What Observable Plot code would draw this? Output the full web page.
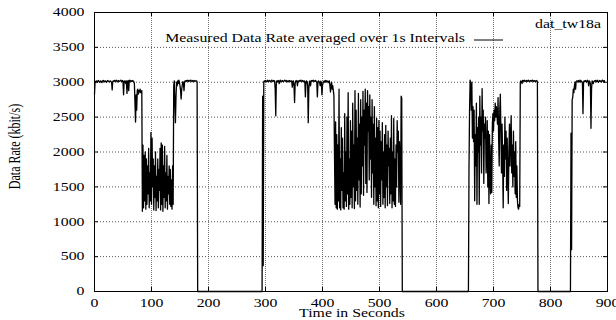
<!DOCTYPE html>
<html><head><meta charset="utf-8">
<script src="https://cdn.jsdelivr.net/npm/d3@7"></script>
<script src="https://cdn.jsdelivr.net/npm/@observablehq/plot@0.6"></script>
<style>html,body{margin:0;padding:0;background:#fff;}</style>
</head><body><div id="chart"></div>
<script>
const xTicks = [0,100,200,300,400,500,600,700,800,900];
const yTicks = [0,500,1000,1500,2000,2500,3000,3500,4000];
const xLabel = "Time in Seconds";
const yLabel = "Data Rate (kbit/s)";
const keyLabel = "Measured Data Rate averaged over 1s Intervals";
const seriesName = "dat_tw18a";

// data rate per 1 s interval (kbit/s); each burst starts at the given second, rate is 0 between bursts
const burst1Start = 0;
const burst1 = [
  2830,
  3010,3000,3020,3015,3005,3020,3025,3010,3000,3015,3020,3010,2995,3020,3015,3025,3010,3005,3020,3015,3000,3010,3025,3020,3010,3005,3015,3020,3010,3000,
  2890,
  3010,3020,3015,3025,3010,3020,3030,3015,3005,3020,3025,3010,3015,3020,3030,3020,3010,3025,3015,
  2820,
  3010,3020,3015,2980,3020,
  2840,
  3010,3025,2880,3020,3030,3015,3020,3010,3025,3015,3020,3010,
  2980,2700,2430,2820,2600,2880,2900,2830,2880,2860,2900,2850,2870,2880,
  1150,2100,1200,1950,1300,2000,1180,1900,1250,1800,
  1400,2050,1200,1700,1300,2280,1250,2200,1500,1900,
  1170,1800,1350,2000,1160,1650,1300,1900,1200,1750,
  1450,2050,1170,2130,1250,2100,1150,1800,1350,2080,
  1200,1700,1300,1950,1180,1650,1400,1800,1250,1750,
  1220,1600,1180,1800,1250,
  2950,3020,2700,2420,2800,3000,2950,3020,2980,3030,
  3000,2950,2880,2760,2900,2960,3010,2990,2880,3000,
  3020,3010,3025,3015,3020,3030,3010,3025,3020,3015,
  3030,3020,3010,3025,3015,3020,3010,3025,3020,3015,
  3020,3010
];
const burst2Start = 295;
const burst2 = [
  2800,370,3010,
  3020,3010,3025,3015,3005,3020,3030,3010,3015,3025,3020,3005,3015,3030,3020,3010,3025,3015,3020,
  2900,2520,3000,
  3020,3010,3025,3015,2980,3020,3030,3015,3005,3020,3025,3010,3015,3020,3030,3020,3010,3025,3015,3005,3020,3010,3025,3020,3010,3015,3020,
  2930,3010,3020,2950,2710,2980,3020,3010,3025,2950,3015,
  3020,3010,3025,3015,3030,3020,3010,3025,3015,3005,3020,3010,
  2790,3000,3020,3010,2950,2420,2900,3010,3020,2950,
  3010,3025,3015,3020,3030,3010,3020,3015,3025,3010,3005,
  2790,3000,3020,3010,2990,2950,3015,3000,2820,2950,
  2990,3010,3020,3000,3015,3025,3005,3020,3010,2995,3015,3020,
  2950,2860,2960,3000,2900,2950,2880,2820,
  2000,1250,2430,1200,2250,1180,2100,1300,2900,1200,
  1900,1170,2350,1450,2200,1200,1700,1180,2550,1300,
  2000,1220,2500,1400,2850,1180,1900,1250,2450,1350,
  2300,1200,2700,1500,2100,1190,2880,1300,2600,1450,
  2200,1250,2840,1600,2400,1210,
  2750,1400,2500,1800,2870,1380,2600,2100,2900,1550,
  2700,1420,2880,2300,2650,1600,2820,1900,2500,1350,
  2750,1700,2400,1250,2650,1500,2200,1230,2480,
  1300,2350,1200,2450,1400,2300,1220,2150,1600,2420,
  1250,2000,1350,2250,1200,2380,1500,2100,1230,2300,
  1800,2050,1260,2200,1400,2520,1200,2000,1300,2480,
  1250,1900,1220,2100,1500,2450,2000,2300,1280,2150,
  1800,1250,
  2800,2770
];
const burst3Start = 657;
const burst3 = [
  1760,2600,3030,2950,
  2600,3000,2200,2650,2150,2600,1300,2250,1800,2700,
  1250,2350,2000,2500,1250,2800,2100,2500,1700,2910,
  2300,2600,1550,2400,2200,2500,1700,1880,2450,1500,
  2300,1260,2250,1600,1400,2100,1420,2400,2550,2300,
  2600,2450,2700,2500,2650,2550,2400,2780,2200,1800,
  2600,2830,2300,1700,2400,1900,1200,2100,1650,2500,
  1900,2300,1450,2200,1700,1260,2000,2400,1800,2200,
  2520,1700,2100,1500,2300,1650,2000,1400,2150,1350,
  1800,1300,1200,1180,1250,
  1220,3000,
  3020,3010,2980,3025,3015,3020,3030,3010,3020,3015,
  3025,3010,3020,3030,3015,3020,3010,3025,3020,3015,
  3030,3020,3010,3025,3015,3020,3010,3025,3020,3015
];
const burst4Start = 836;
const burst4 = [
  2270,600,2750,2780,2900,2850,2950,3000,2900,3010,3020,
  3020,3010,3025,3000,3015,3030,3005,3020,3010,2990,
  2550,3000,
  3020,3010,3025,3015,3000,3020,3030,3010,2950,
  3020,3010,2980,2340,2900,3020,3000,2980,
  3010,3020,3015,3025,3005,3020,3030,3010,3000,3015,3025,3010,3020,3005,3015,3030,3020,3010,3025,3015
];

const bursts = [[burst1Start, burst1],[burst2Start, burst2],[burst3Start, burst3],[burst4Start, burst4]];
const data = [];
bursts.forEach(([start, vals], k) => {
  vals.forEach((v, i) => data.push({t: start + i, v}));
  if (k < bursts.length - 1) {
    data.push({t: start + vals.length, v: 0});
    data.push({t: bursts[k + 1][0] - 1, v: 0});
  }
});

const W = 616, H = 320, ML = 94, MR = 9, MT = 12, MB = 29;
const innerW = W - ML - MR, innerH = H - MT - MB, TICK = 4;
const SX = 1.32;

const chart = Plot.plot({
  width: W, height: H,
  marginLeft: ML, marginRight: MR, marginTop: MT, marginBottom: MB,
  style: {fontFamily: "'Liberation Serif', 'Times New Roman', serif", fontSize: "12px", background: "white", color: "black"},
  x: {domain: [0, 900], ticks: xTicks, tickSize: 0, tickPadding: 6.5, tickFormat: "d", label: null},
  y: {domain: [0, 4000], ticks: yTicks, tickSize: 0, tickPadding: 10, tickFormat: "d", label: null},
  marks: [
    Plot.ruleX(xTicks.filter(d => d > 0 && d < 900), {stroke: "#777", strokeDasharray: "1,1"}),
    Plot.ruleY(yTicks.filter(d => d > 0 && d < 4000), {stroke: "#555", strokeDasharray: "1,2"}),
    Plot.tickX(xTicks, {x: d => d, stroke: "black", insetTop: innerH - TICK}),
    Plot.tickX(xTicks, {x: d => d, stroke: "black", insetBottom: innerH - TICK}),
    Plot.tickY(yTicks, {y: d => d, stroke: "black", insetRight: innerW - TICK}),
    Plot.tickY(yTicks, {y: d => d, stroke: "black", insetLeft: innerW - TICK}),
    Plot.line(data, {x: "t", y: "v", stroke: "black", strokeWidth: 1.3}),
    Plot.frame({stroke: "black"})
  ]
});
document.getElementById("chart").appendChild(chart);

const svg = d3.select(chart);
svg.append("text").attr("transform", "translate(352,317)").attr("text-anchor", "middle").attr("fill", "black").text(xLabel);
svg.append("text").attr("data-rot", "1").attr("transform", "translate(20,146.5) rotate(-90)").attr("text-anchor", "middle").attr("fill", "black").text(yLabel);
svg.append("text").attr("transform", "translate(465,42)").attr("text-anchor", "end").attr("fill", "black").text(keyLabel);
svg.append("line").attr("x1", 474).attr("x2", 503).attr("y1", 40).attr("y2", 40).attr("stroke", "black");
svg.append("text").attr("transform", "translate(601,27.7)").attr("text-anchor", "end").attr("fill", "black").text(seriesName);

chart.querySelectorAll("text").forEach(t => {
  const xa = t.getAttribute("x"), ya = t.getAttribute("y");
  let pre = "";
  if (xa !== null && xa !== "" && !isNaN(+xa)) { pre += ` translate(${+xa},0)`; t.removeAttribute("x"); }
  if (ya !== null && ya !== "" && !isNaN(+ya)) { pre += ` translate(0,${+ya})`; t.removeAttribute("y"); }
  const sc = t.getAttribute("data-rot") ? ` scale(1,${SX})` : ` scale(${SX},1)`;
  t.setAttribute("transform", (t.getAttribute("transform") || "") + pre + sc);
});
</script>
</body></html>
